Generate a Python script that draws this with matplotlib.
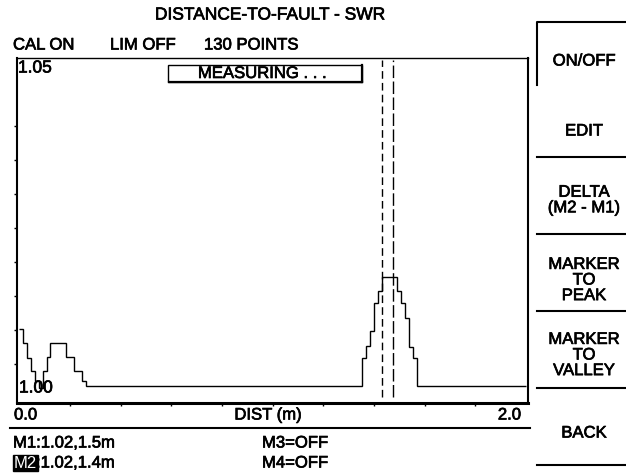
import matplotlib
matplotlib.use("Agg")
import matplotlib.pyplot as plt
import matplotlib.patheffects as pe
import numpy as np
from matplotlib.patches import Rectangle
from matplotlib.lines import Line2D

# размер экрана прибора в пикселях
W, H = 626, 476

# трасса 130 точек, SWR
swr = [1.0101, 1.0081, 1.0059, 1.0040, 1.0025, 1.0015, 1.0040, 1.0060, 1.0081, 1.0081,
       1.0081, 1.0081, 1.0060, 1.0060, 1.0040, 1.0040, 1.0025, 1.0018, 1.0018, 1.0018,
       1.0018, 1.0018, 1.0018, 1.0018, 1.0018, 1.0018, 1.0018, 1.0018, 1.0018, 1.0018,
       1.0018, 1.0018, 1.0018, 1.0018, 1.0018, 1.0018, 1.0018, 1.0018, 1.0018, 1.0018,
       1.0018, 1.0018, 1.0018, 1.0018, 1.0018, 1.0018, 1.0018, 1.0018, 1.0018, 1.0018,
       1.0018, 1.0018, 1.0018, 1.0018, 1.0018, 1.0018, 1.0018, 1.0018, 1.0018, 1.0018,
       1.0018, 1.0018, 1.0018, 1.0018, 1.0018, 1.0018, 1.0018, 1.0018, 1.0018, 1.0018,
       1.0018, 1.0018, 1.0018, 1.0018, 1.0018, 1.0018, 1.0018, 1.0018, 1.0018, 1.0018,
       1.0018, 1.0018, 1.0018, 1.0018, 1.0018, 1.0018, 1.0018, 1.0018, 1.0059, 1.0077,
       1.0099, 1.0140, 1.0158, 1.0178, 1.0178, 1.0178, 1.0178, 1.0158, 1.0140, 1.0118,
       1.0075, 1.0059, 1.0017, 1.0017, 1.0017, 1.0017, 1.0017, 1.0017, 1.0017, 1.0017,
       1.0017, 1.0017, 1.0017, 1.0017, 1.0017, 1.0017, 1.0017, 1.0017, 1.0017, 1.0017,
       1.0017, 1.0017, 1.0017, 1.0017, 1.0017, 1.0017, 1.0017, 1.0017, 1.0017, 1.0017]
dist_start, dist_stop = 0.0, 2.0

# маркеры (положение линий на экране)
marker_pos = [1.477, 1.431]  # M1, M2

title = "DISTANCE-TO-FAULT - SWR"
status = ["CAL ON", "LIM OFF", "130 POINTS"]
softkeys = ["ON/OFF", "EDIT", "DELTA\n(M2 - M1)", "MARKER\nTO\nPEAK", "MARKER\nTO\nVALLEY", "BACK"]

plt.rcParams['font.family'] = ['Liberation Sans', 'DejaVu Sans']
plt.rcParams['lines.scale_dashes'] = False

# чуть жирнее, как на экране прибора
bold = [pe.withStroke(linewidth=0.5, foreground='black')]


def fx(x):
    return x / W


def fy(y):
    return 1 - y / H


def label(x, y, s, ha='left', size=12, **kw):
    fig.text(fx(x), fy(y), s, ha=ha, va='center', fontsize=size, color='black',
             path_effects=bold, **kw)


fig = plt.figure(figsize=(W / 100, H / 100), dpi=100)
fig.patch.set_facecolor('white')

# график
ax = fig.add_axes([fx(17), fy(403), (528 - 17) / W, (403 - 58) / H])
edges = np.linspace(dist_start, dist_stop, len(swr) + 1)
ax.stairs(swr, edges, baseline=None, color='black', linewidth=1.0)
ax.set_xlim(-0.0091, 2.0083)
ax.set_ylim(0.99926, 1.05)

ax.set_xticks(np.arange(0.2, 2.0, 0.2))
ax.set_yticks(np.arange(1.005, 1.0449, 0.005))
ax.set_xticklabels([])
ax.set_yticklabels([])
ax.tick_params(axis='both', direction='out', length=2.5, width=1, color='black')

ax.spines['left'].set_linewidth(1.5)
ax.spines['right'].set_linewidth(1.5)
ax.spines['bottom'].set_linewidth(2.2)
ax.spines['top'].set_linewidth(1.0)

# маркеры M1, M2
ax.axvline(marker_pos[0], ymin=0.017, ymax=0.994, color='black', lw=1.0, dashes=(9, 2.5))
ax.axvline(marker_pos[1], ymin=0.017, ymax=0.994, color='black', lw=1.0, dashes=(5.5, 3))

# верхние подписи
label(270, 15, title, ha='center', size=12.5)
label(13, 45, status[0])
label(110, 45, status[1])
label(204, 45, status[2])

label(18, 68, "1.05", size=12.5)
label(19, 388, "1.00", size=12.5)

# окно MEASURING
fig.add_artist(Rectangle((fx(168), fy(82)), (362 - 168) / W, (82 - 65) / H,
                         transform=fig.transFigure, fill=False, lw=1.0, ec='black'))
fig.add_artist(Line2D([fx(169), fx(362)], [fy(82), fy(82)], transform=fig.transFigure, lw=1.6, color='black'))
fig.add_artist(Line2D([fx(362), fx(362)], [fy(65), fy(82)], transform=fig.transFigure, lw=1.6, color='black'))
label(262, 73.5, "MEASURING . . .", ha='center')

# ось X
label(14, 415, "0.0")
label(268, 415, "DIST (m)", ha='center')
label(521, 415, "2.0", ha='right')
fig.add_artist(Line2D([fx(10), fx(530)], [fy(428), fy(428)], transform=fig.transFigure, lw=1.5, color='black'))

# маркеры внизу
label(13, 443, "M1:1.02,1.5m")
fig.text(fx(14), fy(463), "M2", ha='left', va='center', fontsize=12, color='white',
         bbox=dict(facecolor='black', edgecolor='black', pad=0.5))
label(36, 463, ":1.02,1.4m")
label(262, 443, "M3=OFF")
label(262, 463, "M4=OFF")

# меню справа
fig.add_artist(Line2D([fx(537), fx(537), fx(626)], [fy(85), fy(22), fy(22)],
                      transform=fig.transFigure, lw=1.5, color='black'))
for yy in [157, 234, 311, 388, 465]:
    fig.add_artist(Line2D([fx(537), fx(626)], [fy(yy), fy(yy)], transform=fig.transFigure, lw=1.5, color='black'))

key_y = [61, 131, 200, 280, 355, 433]
for s, yy in zip(softkeys, key_y):
    label(584, yy, s, ha='center', linespacing=1.05)

fig.savefig("out.png", dpi=100, facecolor='white')
